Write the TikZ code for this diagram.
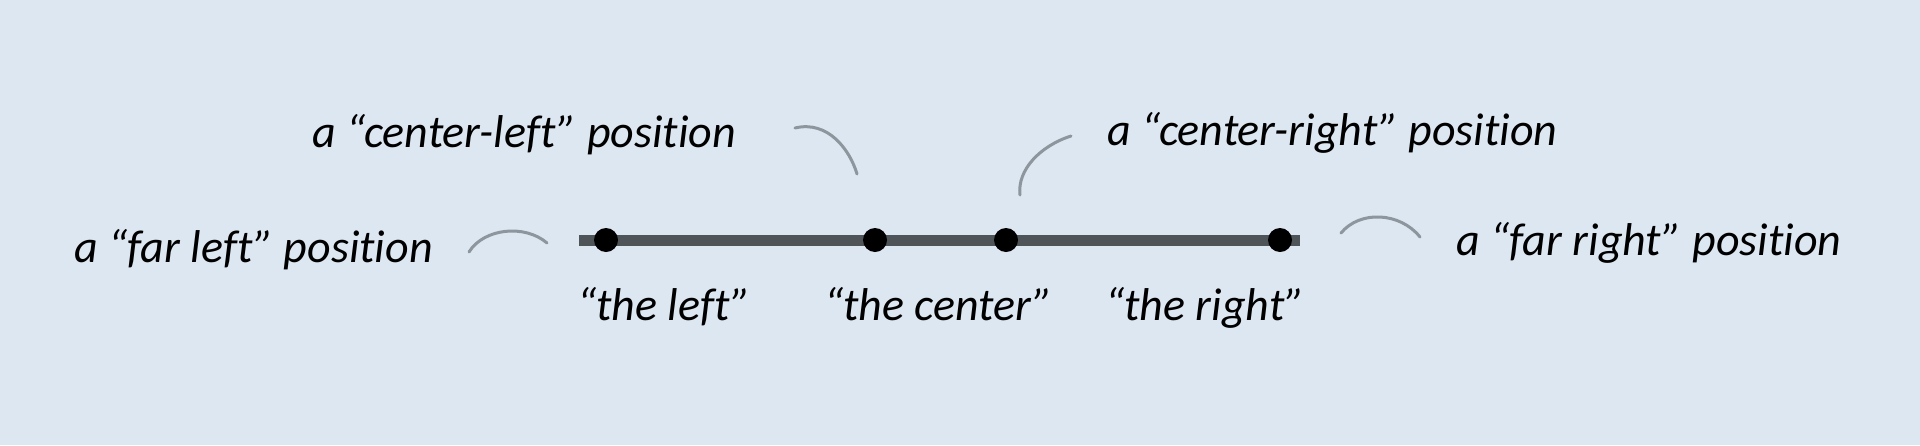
\documentclass[tikz,border=0pt]{standalone}
\usepackage{fontspec}
\setmainfont{Carlito}[Ligatures={NoCommon}]
\definecolor{bg}{HTML}{DDE7F1}
\definecolor{axis}{HTML}{4F5458}
\definecolor{arc}{HTML}{8D959D}
\begin{document}
\begin{tikzpicture}[x=1pt,y=-1pt,
  lbl/.style={inner sep=0pt,anchor=base west,font=\fontsize{46}{52}\selectfont\itshape},
  dotmark/.style={circle,fill=black,inner sep=0pt,minimum size=24pt},
  arcline/.style={draw=arc,line width=3pt,line cap=round}]
\fill[bg] (0,0) rectangle (1920,445);
\useasboundingbox (0,0) rectangle (1920,445);
% axis
\coordinate (la) at (579,240);
\coordinate (ra) at (1300,240);
\draw[axis,line width=11pt] (la) -- (ra);
\node[dotmark] (d1) at (606,240) {};
\node[dotmark] (d2) at (875,240) {};
\node[dotmark] (d3) at (1006,240) {};
\node[dotmark] (d4) at (1280,240) {};
% labels
\node[lbl] (farleft) at (74,262) {a “far left” position};
\node[lbl] (cleft) at (312,147) {a “center-left” position};
\node[lbl] (cright) at (1107,145) {a “center-right” position};
\node[lbl] (farright) at (1456,255) {a “far right” position};
\node[lbl] (tleft) at (577,320) {“the left”};
\node[lbl] (tcenter) at (824,320) {“the center”};
\node[lbl] (tright) at (1105,320) {“the right”};
% arcs
\coordinate (a1s) at (469,252); \coordinate (a1e) at (547,243);
\draw[arcline] (a1s) .. controls (484,228) and (525,224) .. (a1e);
\coordinate (a2s) at (795,128); \coordinate (a2e) at (857,174);
\draw[arcline] (a2s) .. controls (828,120) and (850,150) .. (a2e);
\coordinate (a3s) at (1071,136); \coordinate (a3e) at (1020,195);
\draw[arcline] (a3s) .. controls (1040,146) and (1017,170) .. (a3e);
\coordinate (a4s) at (1341,233); \coordinate (a4e) at (1420,237);
\draw[arcline] (a4s) .. controls (1360,210) and (1400,212) .. (a4e);
\end{tikzpicture}
\end{document}
